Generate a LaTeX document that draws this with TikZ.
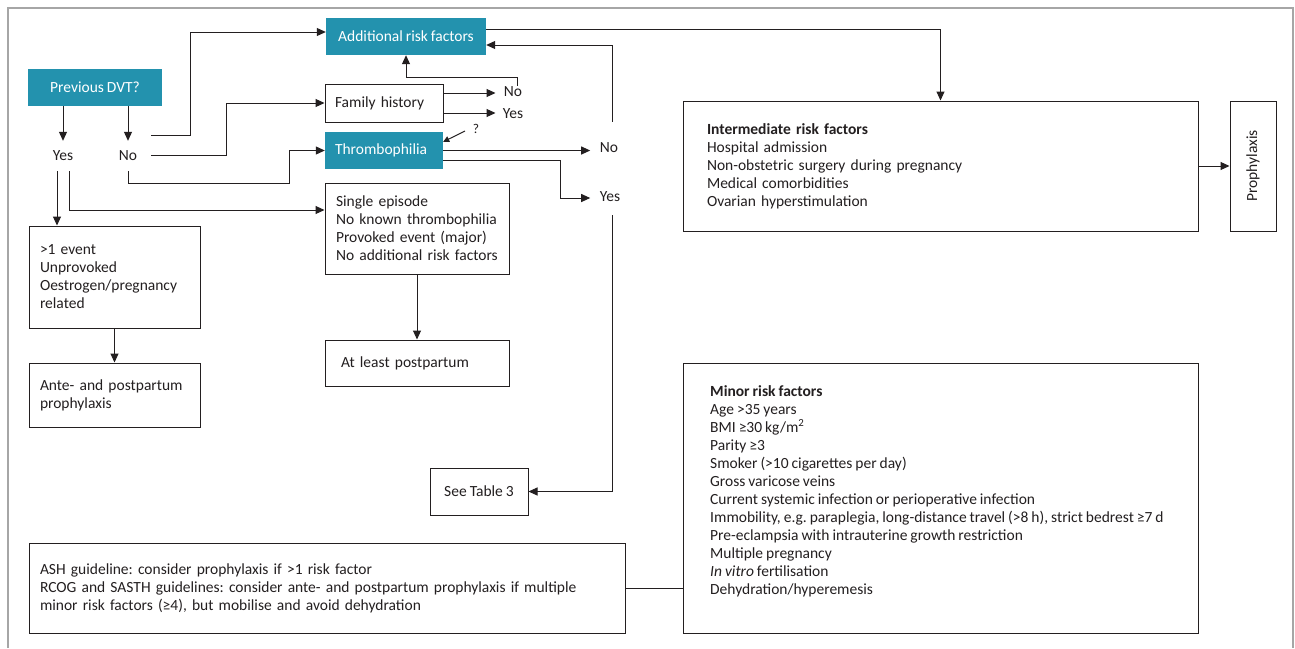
\documentclass[tikz,border=0pt]{standalone}
\usepackage{fontspec}
\setmainfont{Carlito}[WordSpace=0.85]
\frenchspacing
\usetikzlibrary{arrows.meta,calc}
\definecolor{teal1}{RGB}{35,146,174}
\definecolor{ink}{RGB}{35,31,32}
\begin{document}
\begin{tikzpicture}[x=1pt,y=-1pt,
  every node/.style={font=\fontsize{15.5}{18}\selectfont, text=ink},
  box/.style={draw=ink, line width=1pt, rectangle, inner sep=0pt},
  tealbox/.style={fill=teal1, rectangle, inner sep=0pt, text=white},
  lbl/.style={inner sep=0pt, minimum height=30pt},
  lbltwo/.style={inner sep=1pt},
  con/.style={draw=ink, line width=1pt},
  arr/.style={con, -{Triangle[length=9pt,width=8pt]}},
]
\useasboundingbox (0,0) rectangle (1295,648);
\fill[white] (0,0) rectangle (1295,648);
\draw[gray!70, line width=1.2pt] (8,648) -- (8,8) -- (1293,8) -- (1293,648);

% nodes
\node[tealbox, minimum width=134pt, minimum height=37pt] (dvt) at (95,87.5) {Previous DVT?};
\node[lbl] (yes) at (63,156) {Yes};
\node[lbl] (no) at (128,156) {No};
\node[tealbox, minimum width=160pt, minimum height=37pt] (arf) at (406,36.5) {Additional risk factors};
\node[box, minimum width=118pt, minimum height=38pt, text width=98pt, align=left] (fam) at (384,103) {Family history};
\node[tealbox, minimum width=118pt, minimum height=37pt, text width=98pt, align=left] (thr) at (384,150.5) {Thrombophilia};
\node[lbltwo] (fno) at (513,92) {No};
\node[lbltwo] (fyes) at (513,114) {Yes};
\node[lbltwo] (tno) at (609,148) {No};
\node[lbltwo] (tyes) at (610,197) {Yes};
\node[lbltwo, font=\fontsize{13.5}{14}\selectfont] (q) at (476,129) {?};
\node[box, minimum width=184pt, minimum height=91pt, text width=162pt, align=left] (single) at (417,228.5)
  {Single episode\\No known thrombophilia\\Provoked event (major)\\No additional risk factors};
\node[box, minimum width=184pt, minimum height=46pt, text width=152pt, align=left] (least) at (417,363) {At least postpartum};
\node[box, minimum width=98pt, minimum height=47pt] (see) at (479,491.5) {See Table 3};
\node[box, minimum width=171pt, minimum height=102pt, text width=149pt, align=left] (many) at (114.5,277)
  {>1 event\\Unprovoked\\Oestrogen/pregnancy\\related};
\node[box, minimum width=171pt, minimum height=64pt, text width=149pt, align=left] (ante) at (114.5,395)
  {Ante- and postpartum\\prophylaxis};
\node[box, minimum width=515pt, minimum height=130pt, text width=467pt, align=left] (inter) at (940.5,166)
  {\textbf{Intermediate risk factors}\\Hospital admission\\Non-obstetric surgery during pregnancy\\Medical comorbidities\\Ovarian hyperstimulation};
\node[box, minimum width=46pt, minimum height=130pt] (proph) at (1253,166) {};
\node[rotate=90, inner sep=0pt] (prophtext) at (proph.center) {Prophylaxis};
\node[box, minimum width=515pt, minimum height=270pt] (minor) at (940.5,498) {};
\node[anchor=west, align=left, inner sep=0pt] (minortext) at (710,491)
  {\textbf{Minor risk factors}\\Age >35 years\\BMI ≥30 kg/m\textsuperscript{2}\\Parity ≥3\\Smoker (>10 cigarettes per day)\\Gross varicose veins\\Current systemic infection or perioperative infection\\Immobility, e.g. paraplegia, long-distance travel (>8 h), strict bedrest ≥7 d\\Pre-eclampsia with intrauterine growth restriction\\Multiple pregnancy\\\textit{In vitro} fertilisation\\Dehydration/hyperemesis};
\node[box, minimum width=596pt, minimum height=90pt, text width=574pt, align=left] (ash) at (327,588)
  {ASH guideline: consider prophylaxis if >1 risk factor\\RCOG and SASTH guidelines: consider ante- and postpartum prophylaxis if multiple\\minor risk factors (≥4), but mobilise and avoid dehydration};

% connectors
\draw[arr] (dvt.south -| yes) -- (yes.north);
\draw[arr] (dvt.south -| no) -- (no.north);
\draw[arr] ([xshift=-6pt]yes.south) -- ([xshift=-6pt]yes.south |- many.north);
\draw[arr] ([xshift=6pt]yes.south) |- ([yshift=18.5pt]single.west);
\draw[arr] ($(no.center)+(23,-21)$) -- ++(39,0) |- ([yshift=4.5pt]arf.west);
\draw[arr] ($(no.center)+(23,-1)$) -- ++(75,0) |- (fam.west);
\draw[arr] (no.south) -- ++(0,12) -- ++(161,0) |- (thr.west);
\draw[arr] ([yshift=10pt]fam.east) -- ++(52,0);
\draw[arr] ([yshift=-10pt]fam.east) -- ++(52,0);
\draw[arr] ([xshift=4pt]fno.north) -- ++(0,-8) -| (arf.south);
\draw[arr] (thr.east) -- ++(147,0);
\draw[arr] ([yshift=-9.5pt]thr.east) -- ++(117,0) -- ++(0,38) -- ++(30,0);
\draw[arr] ([xshift=3pt,yshift=20pt]tno.north) |- ([yshift=-8.5pt]arf.east);
\draw[arr] ([xshift=2pt,yshift=-12pt]tyes.south) |- (see.east);
\draw[con, -{Triangle[length=6pt,width=6pt]}] ([xshift=-11pt,yshift=-2pt]q.center) -- ([yshift=-10pt]thr.north east);
\draw[arr] ([yshift=7.5pt]arf.east) -| (inter.north);
\draw[arr] (inter.east) -- (proph.west);
\draw[con] (ash.east) -- (ash.east -| minor.west);
\draw[arr] (many.south) -- (ante.north);
\draw[arr] (single.south) -- (least.north);
\end{tikzpicture}
\end{document}
